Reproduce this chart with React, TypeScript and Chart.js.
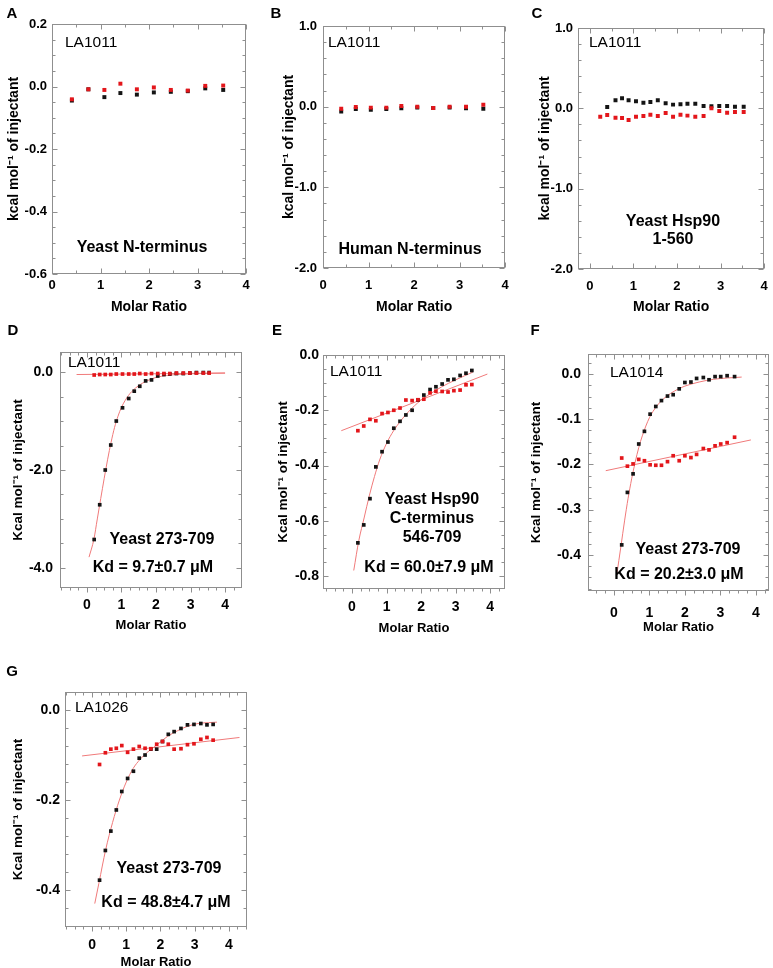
import React, { useEffect, useRef } from 'react';
import { Chart, registerables } from 'chart.js';

Chart.register(...registerables);

const FONT = '"Liberation Sans", Arial, Helvetica, sans-serif';
const RED = '#e3161b';
const BLACK = '#141414';
const FIT = '#f07a7a';
const FRAME = '#8f8f8f';

// ---------- tick labels ----------
const X_TICKS = [0, 1, 2, 3, 4];
const A_Y_TICKS = [-0.6, -0.4, -0.2, 0, 0.2];
const BC_Y_TICKS = [-2, -1, 0, 1];
const D_Y_TICKS = [-4, -2, 0];
const E_Y_TICKS = [-0.8, -0.6, -0.4, -0.2, 0];
const F_Y_TICKS = [-0.4, -0.3, -0.2, -0.1, 0];
const G_Y_TICKS = [-0.4, -0.2, 0];

// ---------- panel A ----------
const aX = [0.41, 0.75, 1.08, 1.41, 1.75, 2.1, 2.45, 2.8, 3.16, 3.53];
const aRed = [-0.041, -0.009, -0.011, 0.009, -0.009, -0.003, -0.011, -0.013, 0.002, 0.003];
const aBlack = [-0.045, -0.009, -0.034, -0.021, -0.026, -0.019, -0.017, -0.015, -0.006, -0.011];

// ---------- panel B ----------
const bX = [0.4, 0.72, 1.05, 1.39, 1.72, 2.07, 2.42, 2.78, 3.14, 3.52];
const bRed = [-0.025, -0.004, -0.012, -0.012, 0.008, 0.0, -0.016, 0.0, 0.0, 0.025];
const bBlack = [-0.06, -0.03, -0.04, -0.03, -0.02, -0.012, -0.016, -0.012, -0.02, -0.025];

// ---------- panel C ----------
const cRedX = [0.24, 0.4, 0.59, 0.74, 0.89, 1.06, 1.23, 1.39, 1.56, 1.74, 1.91, 2.08, 2.24, 2.42, 2.61, 2.79, 2.97, 3.15, 3.33, 3.53];
const cRed = [-0.104, -0.083, -0.116, -0.12, -0.145, -0.104, -0.095, -0.079, -0.095, -0.058, -0.104, -0.079, -0.091, -0.104, -0.095, 0.0, -0.033, -0.054, -0.046, -0.046];
const cBlackX = [0.4, 0.59, 0.74, 0.89, 1.06, 1.23, 1.39, 1.56, 1.74, 1.91, 2.08, 2.24, 2.42, 2.61, 2.79, 2.97, 3.15, 3.33, 3.53];
const cBlack = [0.017, 0.1, 0.125, 0.1, 0.087, 0.07, 0.08, 0.1, 0.062, 0.046, 0.05, 0.058, 0.058, 0.03, 0.025, 0.03, 0.03, 0.02, 0.02];

// ---------- panel D ----------
const dX = [0.21, 0.37, 0.53, 0.69, 0.85, 1.03, 1.21, 1.37, 1.53, 1.7, 1.87, 2.05, 2.23, 2.4, 2.59, 2.79, 2.98, 3.17, 3.37, 3.54];
const dBlack = [-3.42, -2.71, -2.0, -1.49, -1.0, -0.73, -0.54, -0.39, -0.29, -0.18, -0.16, -0.08, -0.05, -0.04, -0.03, -0.03, -0.02, -0.01, -0.01, -0.01];
const dRed = [-0.06, -0.05, -0.05, -0.05, -0.04, -0.04, -0.04, -0.04, -0.03, -0.04, -0.03, -0.03, -0.03, -0.03, -0.02, -0.02, -0.02, -0.02, -0.02, -0.02];
const dFitX = [0.06, 0.2, 0.3, 0.4, 0.5, 0.6, 0.7, 0.8, 0.9, 1.0, 1.2, 1.4, 1.6, 1.8, 2.0, 2.3, 2.6, 3.0, 3.5, 4.0];
const dFitY = [-3.78, -3.42, -3.0, -2.58, -2.17, -1.78, -1.43, -1.13, -0.9, -0.72, -0.48, -0.33, -0.23, -0.16, -0.11, -0.07, -0.05, -0.035, -0.025, -0.02];
const dLineX = [-0.3, 4.0];
const dLineY = [-0.05, -0.02];

// ---------- panel E ----------
const eX = [0.17, 0.34, 0.52, 0.69, 0.87, 1.04, 1.21, 1.39, 1.56, 1.74, 1.91, 2.08, 2.26, 2.43, 2.61, 2.78, 2.95, 3.13, 3.3, 3.47];
const eBlack = [-0.68, -0.615, -0.52, -0.405, -0.35, -0.315, -0.265, -0.24, -0.217, -0.2, -0.163, -0.145, -0.125, -0.115, -0.105, -0.09, -0.088, -0.074, -0.066, -0.056];
const eRed = [-0.274, -0.257, -0.233, -0.238, -0.212, -0.208, -0.2, -0.192, -0.163, -0.165, -0.162, -0.16, -0.137, -0.131, -0.132, -0.134, -0.129, -0.127, -0.108, -0.107];
const eFitX = [0.05, 0.2, 0.35, 0.5, 0.65, 0.8, 1.0, 1.2, 1.4, 1.6, 1.8, 2.0, 2.3, 2.6, 3.0, 3.5];
const eFitY = [-0.78, -0.67, -0.59, -0.51, -0.44, -0.38, -0.32, -0.275, -0.24, -0.21, -0.185, -0.163, -0.138, -0.115, -0.09, -0.062];
const eLineX = [-0.31, 3.92];
const eLineY = [-0.274, -0.069];

// ---------- panel F ----------
const fX = [0.22, 0.38, 0.54, 0.7, 0.86, 1.02, 1.18, 1.34, 1.51, 1.67, 1.84, 2.0, 2.17, 2.33, 2.52, 2.68, 2.85, 3.01, 3.19, 3.4];
const fBlack = [-0.378, -0.262, -0.221, -0.155, -0.127, -0.089, -0.072, -0.059, -0.049, -0.046, -0.033, -0.019, -0.018, -0.01, -0.008, -0.013, -0.006, -0.006, -0.004, -0.006];
const fRed = [-0.186, -0.204, -0.199, -0.189, -0.192, -0.201, -0.202, -0.202, -0.194, -0.181, -0.192, -0.181, -0.185, -0.178, -0.165, -0.168, -0.159, -0.155, -0.152, -0.14];
const fFitX = [0.08, 0.2, 0.3, 0.4, 0.5, 0.6, 0.7, 0.8, 1.0, 1.2, 1.4, 1.6, 1.8, 2.0, 2.4, 2.8, 3.2, 3.6];
const fFitY = [-0.444, -0.38, -0.325, -0.275, -0.232, -0.195, -0.163, -0.137, -0.097, -0.072, -0.055, -0.043, -0.034, -0.027, -0.018, -0.012, -0.009, -0.007];
const fLineX = [-0.23, 3.86];
const fLineY = [-0.214, -0.146];

// ---------- panel G ----------
const gX = [0.22, 0.39, 0.55, 0.71, 0.87, 1.04, 1.21, 1.38, 1.55, 1.72, 1.89, 2.06, 2.23, 2.4, 2.6, 2.79, 2.98, 3.18, 3.36, 3.54];
const gBlack = [-0.378, -0.312, -0.269, -0.222, -0.181, -0.152, -0.136, -0.107, -0.1, -0.087, -0.087, -0.07, -0.054, -0.048, -0.041, -0.033, -0.032, -0.03, -0.033, -0.032];
const gRed = [-0.121, -0.095, -0.087, -0.085, -0.079, -0.094, -0.087, -0.081, -0.085, -0.086, -0.076, -0.07, -0.076, -0.087, -0.086, -0.077, -0.075, -0.065, -0.061, -0.067];
const gFitX = [0.08, 0.2, 0.4, 0.6, 0.8, 1.0, 1.2, 1.4, 1.6, 1.8, 2.0, 2.2, 2.5, 2.8, 3.1, 3.4, 3.65];
const gFitY = [-0.43, -0.385, -0.31, -0.25, -0.2, -0.16, -0.13, -0.11, -0.095, -0.083, -0.071, -0.059, -0.046, -0.036, -0.03, -0.028, -0.027];
const gLineX = [-0.29, 4.31];
const gLineY = [-0.102, -0.061];

const pts = (xs: number[], ys: number[]) => xs.map((x, i) => ({ x, y: ys[i] }));

type TextItem = { text: string; x: number; y: number; size: number; bold: boolean; align: 'left' | 'center' };
type SeriesDef = { kind: 'red' | 'black' | 'fit'; xs: number[]; ys: number[] };
type PanelDef = {
  letter: string; letterX: number; letterY: number;
  l: number; r: number; t: number; b: number;
  xMin: number; xMax: number; yMin: number; yMax: number;
  xTicks: number[]; yTicks: number[]; xMinor: number; yMinor: number;
  tickSize: number; xTitleSize: number; yTitleSize: number;
  yTitle: string; yTitleX: number; xLabelY: number; xTitleY: number; yLabelGap: number;
  bottomOut: boolean; pointR: number;
  series: SeriesDef[]; texts: TextItem[];
};

const LA = (text: string, x: number, y: number): TextItem => ({ text, x, y, size: 15.5, bold: false, align: 'left' });
const NOTE = (text: string, x: number, y: number): TextItem => ({ text, x, y, size: 16, bold: true, align: 'center' });

const TITLE_LOWER = 'kcal mol\u207B\u00B9 of injectant';
const TITLE_UPPER = 'Kcal mol\u207B\u00B9 of injectant';

const panels: PanelDef[] = [
  {
    letter: 'A', letterX: 12, letterY: 14, l: 52, r: 246, t: 24, b: 274,
    xMin: 0, xMax: 4, yMin: -0.6, yMax: 0.2, xTicks: X_TICKS, yTicks: A_Y_TICKS, xMinor: 0.5, yMinor: 0.05,
    tickSize: 13, xTitleSize: 14, yTitleSize: 14, yTitle: TITLE_LOWER, yTitleX: 14, xLabelY: 285, xTitleY: 307, yLabelGap: 5,
    bottomOut: false, pointR: 2.8,
    series: [{ kind: 'black', xs: aX, ys: aBlack }, { kind: 'red', xs: aX, ys: aRed }],
    texts: [LA('LA1011', 65, 43), NOTE('Yeast N-terminus', 142, 248)],
  },
  {
    letter: 'B', letterX: 276, letterY: 14, l: 323, r: 508, t: 26, b: 268,
    xMin: 0, xMax: 4, yMin: -2, yMax: 1, xTicks: X_TICKS, yTicks: BC_Y_TICKS, xMinor: 0.5, yMinor: 0.2,
    tickSize: 13, xTitleSize: 14, yTitleSize: 14, yTitle: TITLE_LOWER, yTitleX: 289, xLabelY: 285, xTitleY: 307, yLabelGap: 6,
    bottomOut: false, pointR: 2.8,
    series: [{ kind: 'black', xs: bX, ys: bBlack }, { kind: 'red', xs: bX, ys: bRed }],
    texts: [LA('LA1011', 328, 43), NOTE('Human N-terminus', 410, 250)],
  },
  {
    letter: 'C', letterX: 537, letterY: 14, l: 578, r: 767, t: 28, b: 269,
    xMin: -0.27, xMax: 4, yMin: -2, yMax: 1, xTicks: X_TICKS, yTicks: BC_Y_TICKS, xMinor: 0.5, yMinor: 0.2,
    tickSize: 13, xTitleSize: 14, yTitleSize: 14, yTitle: TITLE_LOWER, yTitleX: 545, xLabelY: 286, xTitleY: 307, yLabelGap: 5,
    bottomOut: false, pointR: 2.8,
    series: [{ kind: 'black', xs: cBlackX, ys: cBlack }, { kind: 'red', xs: cRedX, ys: cRed }],
    texts: [LA('LA1011', 589, 43), NOTE('Yeast Hsp90', 673, 222), NOTE('1-560', 673, 240)],
  },
  {
    letter: 'D', letterX: 13, letterY: 331, l: 60, r: 242, t: 352, b: 588,
    xMin: -0.78, xMax: 4.49, yMin: -4.41, yMax: 0.41, xTicks: X_TICKS, yTicks: D_Y_TICKS, xMinor: 0.25, yMinor: 0.5,
    tickSize: 14, xTitleSize: 13, yTitleSize: 13.5, yTitle: TITLE_UPPER, yTitleX: 18, xLabelY: 605, xTitleY: 625, yLabelGap: 7,
    bottomOut: true, pointR: 2.6,
    series: [
      { kind: 'fit', xs: dFitX, ys: dFitY }, { kind: 'fit', xs: dLineX, ys: dLineY },
      { kind: 'black', xs: dX, ys: dBlack }, { kind: 'red', xs: dX, ys: dRed },
    ],
    texts: [LA('LA1011', 68, 363), NOTE('Yeast 273-709', 162, 540), NOTE('Kd = 9.7\u00B10.7 \u03BCM', 153, 568)],
  },
  {
    letter: 'E', letterX: 277, letterY: 331, l: 323, r: 505, t: 355, b: 589,
    xMin: -0.84, xMax: 4.43, yMin: -0.847, yMax: 0, xTicks: X_TICKS, yTicks: E_Y_TICKS, xMinor: 0.25, yMinor: 0.05,
    tickSize: 14, xTitleSize: 13, yTitleSize: 13.5, yTitle: TITLE_UPPER, yTitleX: 283, xLabelY: 607, xTitleY: 628, yLabelGap: 4,
    bottomOut: true, pointR: 2.6,
    series: [
      { kind: 'fit', xs: eFitX, ys: eFitY }, { kind: 'fit', xs: eLineX, ys: eLineY },
      { kind: 'black', xs: eX, ys: eBlack }, { kind: 'red', xs: eX, ys: eRed },
    ],
    texts: [LA('LA1011', 330, 372), NOTE('Yeast Hsp90', 432, 500), NOTE('C-terminus', 432, 519), NOTE('546-709', 432, 538), NOTE('Kd = 60.0\u00B17.9 \u03BCM', 429, 568)],
  },
  {
    letter: 'F', letterX: 535, letterY: 331, l: 588, r: 769, t: 354, b: 591,
    xMin: -0.73, xMax: 4.37, yMin: -0.48, yMax: 0.044, xTicks: X_TICKS, yTicks: F_Y_TICKS, xMinor: 0.25, yMinor: 0.025,
    tickSize: 14, xTitleSize: 13, yTitleSize: 13.5, yTitle: TITLE_UPPER, yTitleX: 536, xLabelY: 613, xTitleY: 627, yLabelGap: 7,
    bottomOut: true, pointR: 2.6,
    series: [
      { kind: 'fit', xs: fFitX, ys: fFitY }, { kind: 'fit', xs: fLineX, ys: fLineY },
      { kind: 'black', xs: fX, ys: fBlack }, { kind: 'red', xs: fX, ys: fRed },
    ],
    texts: [LA('LA1014', 610, 373), NOTE('Yeast 273-709', 688, 550), NOTE('Kd = 20.2\u00B13.0 \u03BCM', 679, 575)],
  },
  {
    letter: 'G', letterX: 12, letterY: 672, l: 65, r: 247, t: 692, b: 927,
    xMin: -0.79, xMax: 4.53, yMin: -0.482, yMax: 0.04, xTicks: X_TICKS, yTicks: G_Y_TICKS, xMinor: 0.25, yMinor: 0.04,
    tickSize: 14, xTitleSize: 13, yTitleSize: 13.5, yTitle: TITLE_UPPER, yTitleX: 18, xLabelY: 945, xTitleY: 962, yLabelGap: 5,
    bottomOut: true, pointR: 2.6,
    series: [
      { kind: 'fit', xs: gFitX, ys: gFitY }, { kind: 'fit', xs: gLineX, ys: gLineY },
      { kind: 'black', xs: gX, ys: gBlack }, { kind: 'red', xs: gX, ys: gRed },
    ],
    texts: [LA('LA1026', 75, 708), NOTE('Yeast 273-709', 169, 869), NOTE('Kd = 48.8\u00B14.7 \u03BCM', 166, 903)],
  },
];

const framePlugin = {
  id: 'panelFrame',
  beforeDatasetsDraw(chart: any, _args: any, opts: any) {
    const { ctx, chartArea: a, scales } = chart;
    const xs = scales.x, ys = scales.y;
    const L = Math.round(a.left) + 0.5, R = Math.round(a.right) - 0.5;
    const T = Math.round(a.top) + 0.5, B = Math.round(a.bottom) - 0.5;
    ctx.save();
    ctx.strokeStyle = FRAME;
    ctx.lineWidth = 1;
    ctx.strokeRect(L, T, R - L, B - T);
    ctx.beginPath();
    const yMark = (v: number, len: number) => {
      const py = Math.round(ys.getPixelForValue(v)) + 0.5;
      ctx.moveTo(L, py); ctx.lineTo(L + len, py);
      ctx.moveTo(R, py); ctx.lineTo(R - len, py);
    };
    const xMark = (v: number, len: number) => {
      const px = Math.round(xs.getPixelForValue(v)) + 0.5;
      ctx.moveTo(px, T); ctx.lineTo(px, T + len);
      ctx.moveTo(px, B); ctx.lineTo(px, opts.bottomOut ? B + len : B - len);
    };
    const majorsY: number[] = opts.yTicks;
    const majorsX: number[] = opts.xTicks;
    majorsY.forEach((v) => yMark(v, 5));
    majorsX.forEach((v) => xMark(v, 5));
    const isMajor = (v: number, arr: number[]) => arr.some((m) => Math.abs(m - v) < 1e-6);
    for (let k = Math.ceil(ys.min / opts.yMinor - 1e-6); k * opts.yMinor <= ys.max + 1e-9; k++) {
      const v = k * opts.yMinor;
      if (!isMajor(v, majorsY)) yMark(v, 3);
    }
    for (let k = Math.ceil(xs.min / opts.xMinor - 1e-6); k * opts.xMinor <= xs.max + 1e-9; k++) {
      const v = k * opts.xMinor;
      if (!isMajor(v, majorsX)) xMark(v, 3);
    }
    ctx.stroke();
    ctx.restore();
  },
};

const textPlugin = {
  id: 'panelText',
  afterDatasetsDraw(chart: any, _args: any, opts: any) {
    const { ctx } = chart;
    ctx.save();
    ctx.fillStyle = '#000';
    ctx.textBaseline = 'middle';
    const items: TextItem[] = opts.items;
    items.forEach((it) => {
      ctx.font = `${it.bold ? 'bold ' : ''}${it.size}px ${FONT}`;
      ctx.textAlign = it.align;
      ctx.fillText(it.text, it.x - opts.ox, it.y - opts.oy);
    });
    ctx.font = `bold 15px ${FONT}`;
    ctx.textAlign = 'center';
    ctx.fillText(opts.letter, opts.letterX - opts.ox, opts.letterY - opts.oy);
    ctx.restore();
  },
};

function geometry(p: PanelDef) {
  const lhY = p.yTitleSize * 1.2;
  const lhX = p.xTitleSize * 1.2;
  const left = Math.floor(Math.min(p.yTitleX - lhY / 2, p.letterX - 9));
  const top = Math.floor(Math.min(p.letterY - 10, p.t - 12));
  const right = p.r + 10;
  const bottom = Math.ceil(p.xTitleY + lhX / 2 + 3);
  return {
    left, top, width: right - left, height: bottom - top,
    yTitlePad: p.yTitleX - lhY / 2 - left,
    xTitlePad: bottom - p.xTitleY - lhX / 2,
    yw: p.l - left,
    xh: bottom - p.b,
    padTop: p.t - top,
    xLabelPad: p.xLabelY - p.b - p.tickSize * 0.6,
  };
}

function Panel({ p }: { p: PanelDef }) {
  const ref = useRef<HTMLCanvasElement>(null);
  const g = geometry(p);
  useEffect(() => {
    if (!ref.current) return;
    const datasets = p.series.map((s) => {
      const data = pts(s.xs, s.ys);
      if (s.kind === 'fit') {
        return {
          data, showLine: true, borderColor: FIT, borderWidth: 1, pointRadius: 0,
          cubicInterpolationMode: 'monotone' as const, order: 3,
        };
      }
      const color = s.kind === 'red' ? RED : BLACK;
      return {
        data, showLine: false, pointStyle: 'rect' as const, pointRadius: p.pointR, pointBorderWidth: 0,
        backgroundColor: color, borderColor: color, order: s.kind === 'red' ? 1 : 2,
      };
    });
    const tickFont = { family: FONT, size: p.tickSize, weight: 'bold' as const };
    const chart = new Chart(ref.current, {
      type: 'scatter',
      data: { datasets: datasets as any },
      plugins: [framePlugin, textPlugin],
      options: {
        responsive: false,
        animation: false,
        devicePixelRatio: 1,
        layout: { padding: { left: 0, top: g.padTop, right: 10, bottom: 0 } },
        plugins: {
          legend: { display: false },
          tooltip: { enabled: false },
          panelFrame: { xTicks: p.xTicks, yTicks: p.yTicks, xMinor: p.xMinor, yMinor: p.yMinor, bottomOut: p.bottomOut },
          panelText: { items: p.texts, ox: g.left, oy: g.top, letter: p.letter, letterX: p.letterX, letterY: p.letterY },
        } as any,
        scales: {
          x: {
            type: 'linear', min: p.xMin, max: p.xMax,
            afterFit: (s: any) => { s.height = g.xh; },
            afterBuildTicks: (s: any) => { s.ticks = p.xTicks.map((v) => ({ value: v })); },
            grid: { display: false, drawTicks: false },
            border: { display: false },
            ticks: { padding: g.xLabelPad, font: tickFont, color: '#000', maxRotation: 0, autoSkip: false, callback: (v: any) => String(v) },
            title: { display: true, text: 'Molar Ratio', color: '#000', font: { family: FONT, size: p.xTitleSize, weight: 'bold' }, padding: { top: 0, bottom: g.xTitlePad } },
          },
          y: {
            type: 'linear', min: p.yMin, max: p.yMax,
            afterFit: (s: any) => { s.width = g.yw; },
            afterBuildTicks: (s: any) => { s.ticks = p.yTicks.map((v) => ({ value: v })); },
            grid: { display: false, drawTicks: false },
            border: { display: false },
            ticks: { padding: p.yLabelGap, font: tickFont, color: '#000', autoSkip: false, callback: (v: any) => Number(v).toFixed(1) },
            title: { display: true, text: p.yTitle, color: '#000', font: { family: FONT, size: p.yTitleSize, weight: 'bold' }, padding: { top: g.yTitlePad, bottom: 0 } },
          },
        },
      } as any,
    });
    return () => chart.destroy();
  }, []);
  return (
    <canvas
      ref={ref}
      width={g.width}
      height={g.height}
      style={{ position: 'absolute', left: g.left, top: g.top, width: g.width, height: g.height }}
    />
  );
}

export default function App() {
  return (
    <div style={{ position: 'absolute', left: 0, top: 0, width: 773, height: 968, background: '#fff', overflow: 'hidden' }}>
      {panels.map((p) => (
        <Panel key={p.letter} p={p} />
      ))}
    </div>
  );
}
